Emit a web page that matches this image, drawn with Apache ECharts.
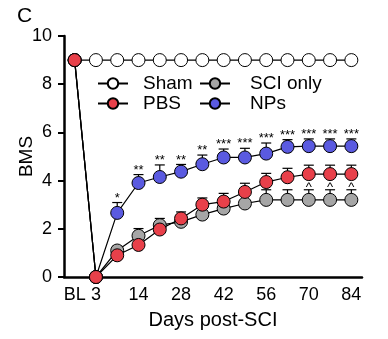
<!DOCTYPE html>
<html>
<head>
<meta charset="utf-8">
<script src="https://cdn.jsdelivr.net/npm/echarts@6/dist/echarts.min.js"></script>
<style>
  html, body { margin: 0; padding: 0; background: #fff; }
  #chart { width: 388px; height: 339px; }
</style>
</head>
<body>
<div id="chart"></div>
<script>
// Time points (days after spinal cord injury), BL = baseline
const categories = ['BL', '3', '7', '14', '21', '28', '35', '42', '49', '56', '63', '70', '77', '84'];
const xTickLabels = ['BL', '3', '14', '28', '42', '56', '70', '84'];

// Mean BMS scores per group
const shamValues = [9, 9, 9, 9, 9, 9, 9, 9, 9, 9, 9, 9, 9, 9];
const sciOnlyValues = [9, 0, 1.1, 1.71, 2.15, 2.29, 2.59, 2.84, 3.05, 3.2, 3.2, 3.2, 3.2, 3.2];
const pbsValues = [9, 0, 0.9, 1.33, 1.97, 2.43, 3.0, 3.13, 3.53, 3.94, 4.14, 4.27, 4.27, 4.27];
const npsValues = [9, 0, 2.66, 3.9, 4.15, 4.37, 4.68, 4.96, 4.96, 5.12, 5.4, 5.43, 5.43, 5.43];

// Upper SEM per group
const shamErr = [0, 0, 0, 0, 0, 0, 0, 0, 0, 0, 0, 0, 0, 0];
const sciOnlyErr = [0, 0, 0.18, 0.3, 0.28, 0.25, 0.3, 0.3, 0.35, 0.42, 0.42, 0.42, 0.42, 0.42];
const pbsErr = [0, 0, 0.22, 0.3, 0.25, 0.27, 0.28, 0.34, 0.36, 0.36, 0.37, 0.37, 0.37, 0.37];
const npsErr = [0, 0, 0.43, 0.35, 0.5, 0.3, 0.38, 0.35, 0.38, 0.44, 0.3, 0.3, 0.3, 0.3];

// Significance marks drawn above the error bars
const npsMarks = ['', '', '*', '**', '**', '**', '**', '***', '***', '***', '***', '***', '***', '***'];
const pbsVsSciMarks = ['', '', '', '', '', '', '', '', '', '', '', '^', '^', '^'];

const FONT = '"Liberation Sans", Arial, Helvetica, sans-serif';

function lineSeries(name, values, color) {
  return {
    name: name,
    type: 'line',
    data: values,
    symbol: 'circle',
    symbolSize: 13,
    z: 3,
    lineStyle: { color: '#000', width: 1.2 },
    itemStyle: { color: color, borderColor: '#000', borderWidth: 1 }
  };
}

// Upper SEM whiskers with a short cap, drawn beneath the markers
function errorSeries(name, values, errs) {
  return {
    name: name + ' SEM',
    type: 'custom',
    z: 1,
    encode: { x: 0, y: 1 },
    data: values.map((v, i) => [i, v, errs[i]]),
    renderItem: function (params, api) {
      const i = api.value(0), v = api.value(1), e = api.value(2);
      if (!(e > 0)) return { type: 'group', children: [] };
      const base = api.coord([i, v]);
      const top = api.coord([i, v + e]);
      return {
        type: 'group',
        children: [
          { type: 'line', shape: { x1: base[0], y1: base[1], x2: top[0], y2: top[1] },
            style: { stroke: '#000', lineWidth: 1.2 } },
          { type: 'line', shape: { x1: top[0] - 5, y1: top[1], x2: top[0] + 5, y2: top[1] },
            style: { stroke: '#000', lineWidth: 1.2 } }
        ]
      };
    }
  };
}

// Significance text placed just above a group's SEM cap, drawn on top of everything
function markSeries(name, values, errs, marks, lift) {
  return {
    name: name + ' marks',
    type: 'custom',
    z: 5,
    encode: { x: 0, y: 1 },
    data: values.map((v, i) => [i, v, errs[i]]),
    renderItem: function (params, api) {
      const mark = marks[params.dataIndex];
      if (!mark) return { type: 'group', children: [] };
      const top = api.coord([api.value(0), api.value(1) + api.value(2)]);
      return {
        type: 'text', x: top[0], y: top[1] + lift,
        style: { text: mark, fill: '#000', font: '13px ' + FONT, align: 'center', verticalAlign: 'bottom' }
      };
    }
  };
}

const chart = echarts.init(document.getElementById('chart'), null, { renderer: 'canvas' });
chart.setOption({
  animation: false,
  backgroundColor: '#fff',
  title: {
    text: 'C', left: 12, top: 1,
    textStyle: { fontSize: 21, fontWeight: 'normal', color: '#000', fontFamily: FONT }
  },
  legend: [
    {
      data: ['Sham', 'PBS'], orient: 'vertical', left: 92, top: 69,
      itemWidth: 30, itemHeight: 13, itemGap: 1,
      textStyle: { fontSize: 19, color: '#000', fontFamily: FONT, padding: [0, 0, 0, 10] }
    },
    {
      data: ['SCI only', 'NPs'], orient: 'vertical', left: 194, top: 69,
      itemWidth: 30, itemHeight: 13, itemGap: 1,
      textStyle: { fontSize: 19, color: '#000', fontFamily: FONT, padding: [0, 0, 0, 15] }
    }
  ],
  grid: { left: 64, right: 26, top: 36, bottom: 62, containLabel: false, outerBoundsMode: 'none' },
  xAxis: {
    type: 'category',
    data: categories,
    boundaryGap: true,
    name: 'Days post-SCI',
    nameLocation: 'middle',
    nameGap: 33,
    nameMoveOverlap: false,
    nameTextStyle: { fontSize: 20, color: '#000', fontFamily: FONT },
    axisLine: { lineStyle: { color: '#000', width: 2.5 } },
    axisTick: { interval: 0, alignWithLabel: true, length: 5, lineStyle: { color: '#000', width: 2 } },
    axisLabel: {
      interval: 0, margin: 9, fontSize: 18, color: '#000', fontFamily: FONT,
      formatter: v => (xTickLabels.indexOf(v) >= 0 ? v : '')
    },
    splitLine: { show: false }
  },
  yAxis: {
    type: 'value',
    min: 0, max: 10, interval: 2,
    name: 'BMS',
    nameLocation: 'middle',
    nameGap: 28,
    nameMoveOverlap: false,
    nameTextStyle: { fontSize: 19, color: '#000', fontFamily: FONT },
    axisLine: { show: true, lineStyle: { color: '#000', width: 2.5 } },
    axisTick: { show: true, length: 6, lineStyle: { color: '#000', width: 2 } },
    axisLabel: { margin: 12, fontSize: 18, color: '#000', fontFamily: FONT },
    splitLine: { show: false }
  },
  series: [
    errorSeries('Sham', shamValues, shamErr),
    errorSeries('SCI only', sciOnlyValues, sciOnlyErr),
    errorSeries('NPs', npsValues, npsErr),
    errorSeries('PBS', pbsValues, pbsErr),
    lineSeries('Sham', shamValues, '#ffffff'),
    lineSeries('SCI only', sciOnlyValues, '#a6a6a6'),
    lineSeries('NPs', npsValues, '#5a5ae0'),
    lineSeries('PBS', pbsValues, '#e8404a'),
    markSeries('NPs', npsValues, npsErr, npsMarks, 2),
    markSeries('SCI only', sciOnlyValues, sciOnlyErr, pbsVsSciMarks, 4)
  ]
});
</script>
</body>
</html>
